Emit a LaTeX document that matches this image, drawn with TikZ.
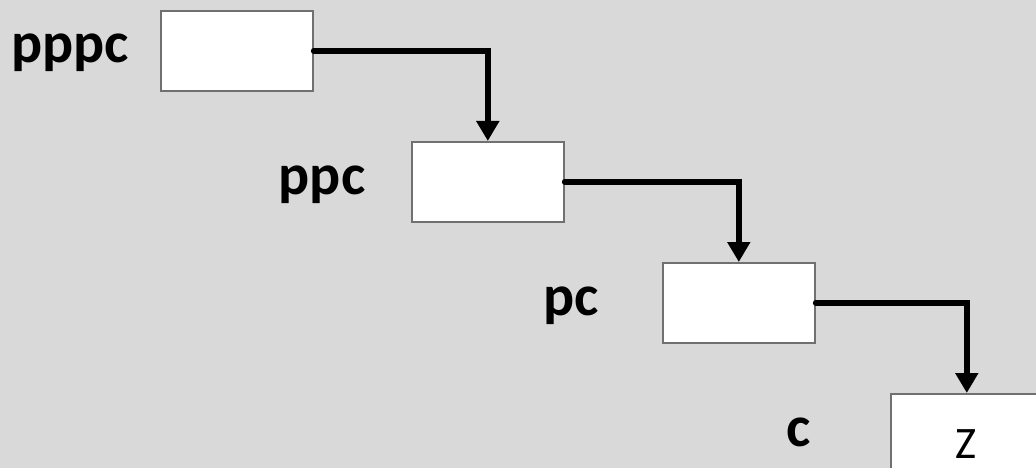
\documentclass[tikz,border=0pt]{standalone}
\usepackage{fontspec}
\setmainfont{Carlito}
\usetikzlibrary{arrows.meta}
\definecolor{bg}{HTML}{D9D9D9}
\definecolor{boxline}{HTML}{707070}
\begin{document}
\begin{tikzpicture}[x=1pt,y=-1pt,
  blk/.style={draw=boxline,line width=1.6pt,fill=white,minimum width=152pt,minimum height=80pt,inner sep=0pt,anchor=north west},
  lbl/.style={font=\fontsize{58}{58}\selectfont\bfseries,anchor=base,inner sep=0pt},
  conn/.style={line width=5.5pt,line cap=round,line join=miter,-{Triangle[width=22pt,length=20pt]}}]
\useasboundingbox (0,0) rectangle (1036,468);
\fill[bg] (0,0) rectangle (1036,468);
\begin{scope}
\clip (0,0) rectangle (1036,468);
\node[blk] (b1) at (160,10) {};
\node[blk] (b2) at (411,141) {};
\node[blk] (b3) at (662,262) {};
\node[blk] (b4) at (890,393) {};
\node[font=\fontsize{45}{45}\selectfont,anchor=base,inner sep=0pt] (z) at (966,458) {Z};
\node[lbl] (l1) at (70,63) {pppc};
\node[lbl] (l2) at (322,194) {ppc};
\node[lbl] (l3) at (571,315) {pc};
\node[lbl] (l4) at (799,446) {c};
\draw[conn] (b1.east) -| (b2.north);
\draw[conn] (b2.east) -| (b3.north);
\draw[conn] (b3.east) -| (b4.north);
\end{scope}
\end{tikzpicture}
\end{document}
